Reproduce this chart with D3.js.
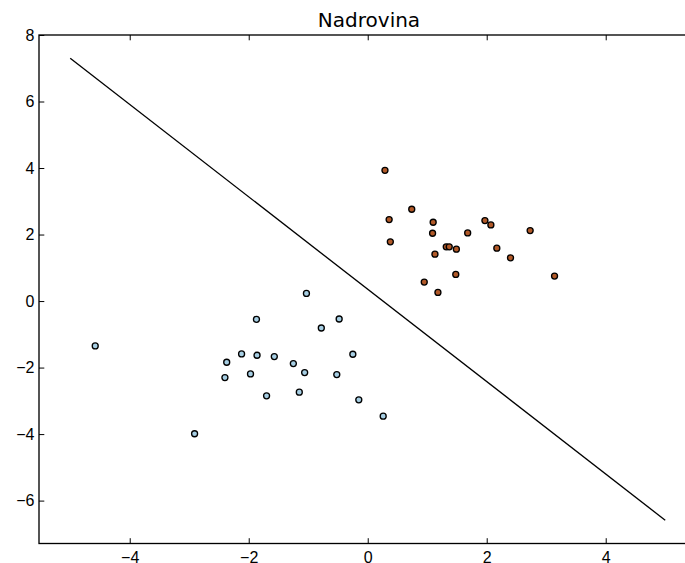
<!DOCTYPE html>
<html>
<head>
<meta charset="utf-8">
<script src="https://cdn.jsdelivr.net/npm/d3@7"></script>
<style>
    body { margin: 0; background: #fff; }
    svg { display: block; font-family: "DejaVu Sans", sans-serif; }
</style>
</head>
<body>
<svg id="chart"></svg>
<script>
/* data */
let class0X = [-4.58, -1.87, -2.12, -1.86, -2.37, -1.97, -2.40, -2.91, -1.03, -0.48,
               -0.78, -1.57, -0.25, -1.25, -1.06, -0.52, -1.70, -1.15, -0.15, 0.26];
let class0Y = [-1.35, -0.55, -1.59, -1.63, -1.84, -2.19, -2.30, -3.99, 0.23, -0.54,
               -0.81, -1.67, -1.60, -1.88, -2.15, -2.21, -2.85, -2.74, -2.97, -3.46];
let class1X = [0.29, 0.74, 0.36, 1.10, 1.09, 1.97, 2.07, 1.68, 2.73, 0.38,
               1.32, 1.37, 1.49, 1.13, 2.17, 2.40, 1.48, 3.14, 0.95, 1.18];
let class1Y = [3.93, 2.76, 2.45, 2.37, 2.04, 2.42, 2.29, 2.05, 2.12, 1.78,
               1.63, 1.63, 1.56, 1.41, 1.59, 1.30, 0.80, 0.75, 0.57, 0.26];
let boundaryX = [-5, 5];
let boundaryY = [7.30, -6.59];
let xTicks = [-4, -2, 0, 2, 4];
let yTicks = [-6, -4, -2, 0, 2, 4, 6, 8];
let title = 'Nadrovina';

let width = 685;
let height = 563;
let margin = { top: 35, left: 39, right: 699, bottom: 543.5 };

let x = d3.scaleLinear().domain([-5.525, 5.568]).range([margin.left, margin.right]);
let y = d3.scaleLinear().domain([-7.29, 8]).range([margin.bottom, margin.top]);

let svg = d3.select('#chart')
    .attr('width', width)
    .attr('height', height);

/* decision line */
let line = d3.line().x(d => x(d[0])).y(d => y(d[1]));
svg.append('path')
    .datum(boundaryX.map((v, i) => [v, boundaryY[i]]))
    .attr('d', line)
    .attr('fill', 'none')
    .attr('stroke', '#000')
    .attr('stroke-width', 1.33);

/* points */
let points = class0X.map((v, i) => ({ x: v, y: class0Y[i], c: '#a6cee3' }))
    .concat(class1X.map((v, i) => ({ x: v, y: class1Y[i], c: '#b15928' })));
svg.append('g').selectAll('circle')
    .data(points)
    .join('circle')
    .attr('cx', d => x(d.x))
    .attr('cy', d => y(d.y))
    .attr('r', 3)
    .attr('fill', d => d.c)
    .attr('stroke', '#000')
    .attr('stroke-width', 1.33);

/* axes: ticks pointing inside, like matplotlib classic */
let fmt = d3.format('d');
let axisStyle = g => {
    g.select('.domain').remove();
    g.selectAll('line').attr('stroke', '#000').attr('stroke-width', 1);
    g.selectAll('text').attr('font-size', 16).attr('fill', '#000');
};
svg.append('g')
    .attr('transform', `translate(0, ${margin.bottom})`)
    .call(d3.axisBottom(x).tickValues(xTicks).tickFormat(fmt).tickSizeInner(-5.3).tickPadding(11))
    .call(axisStyle)
    .call(g => g.selectAll('text').attr('dy', '0.71em').attr('y', 8.5));
svg.append('g')
    .attr('transform', `translate(0, ${margin.top})`)
    .call(d3.axisTop(x).tickValues(xTicks).tickFormat('').tickSizeInner(-5.3))
    .call(axisStyle);
svg.append('g')
    .attr('transform', `translate(${margin.left}, 0)`)
    .call(d3.axisLeft(y).tickValues(yTicks).tickFormat(fmt).tickSizeInner(-5.3).tickPadding(10))
    .call(axisStyle)
    .call(g => g.selectAll('text').attr('x', -4.5));

/* frame */
svg.append('rect')
    .attr('x', margin.left)
    .attr('y', margin.top)
    .attr('width', margin.right - margin.left)
    .attr('height', margin.bottom - margin.top)
    .attr('fill', 'none')
    .attr('stroke', '#000')
    .attr('stroke-width', 1.33);

svg.append('text')
    .attr('x', (margin.left + margin.right) / 2)
    .attr('y', 27)
    .attr('text-anchor', 'middle')
    .attr('font-size', 20)
    .text(title);
</script>
</body>
</html>
